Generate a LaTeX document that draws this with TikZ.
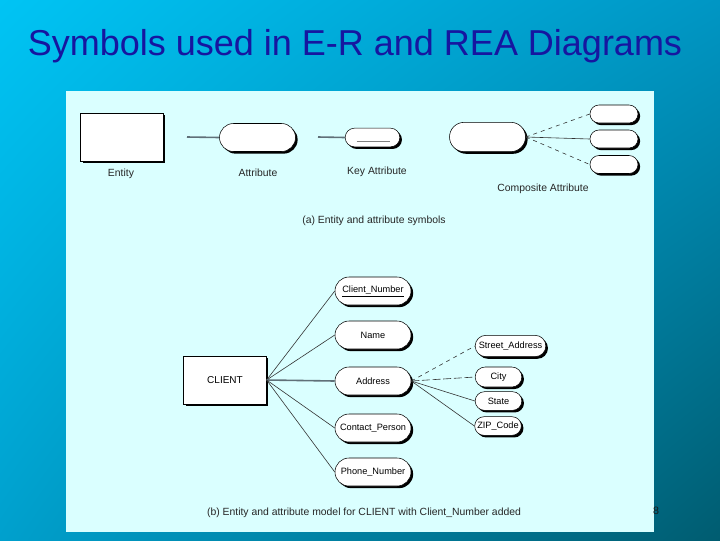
\documentclass[tikz,border=0pt]{standalone}
\usepackage{fontspec}
\setmainfont{Liberation Sans}
\usetikzlibrary{shapes.misc,shadows,shadings}
\definecolor{bgtl}{RGB}{0,196,244}
\definecolor{bgtr}{RGB}{0,150,196}
\definecolor{bgbl}{RGB}{0,160,205}
\definecolor{bgbr}{RGB}{0,92,112}
\definecolor{panel}{RGB}{218,255,255}
\definecolor{titleblue}{RGB}{22,22,160}
\definecolor{linkgray}{RGB}{96,112,120}

\begin{document}
\begin{tikzpicture}[x=0.75pt,y=-0.75pt,
		shadowed/.style={drop shadow={shadow xshift=1.6pt,shadow yshift=-1.6pt,opacity=1,fill=black}},
		ent/.style={draw,thin,fill=white,rectangle,shadowed,minimum width=62pt,minimum height=36pt,inner sep=0pt,font=\fontsize{7.5}{9}\selectfont},
		attr/.style={draw,thin,fill=white,rounded rectangle,shadowed,minimum width=57pt,minimum height=21pt,inner sep=0pt,font=\fontsize{6.9}{8}\selectfont},
		subattr/.style={attr,minimum width=35pt,minimum height=15pt},
		lbl/.style={font=\fontsize{7.8}{9}\selectfont,text=black!85},
		link/.style={draw=linkgray,line width=1.2pt},
		thinlink/.style={draw=black!80,line width=0.45pt}]
		\shade [upper left=bgtl,upper right=bgtr,lower left=bgbl,lower right=bgbr] (0,0) rectangle (720,540);
		\fill [panel] (66,91) rectangle (654,532);
		\node [font=\fontsize{27}{31}\selectfont,text=titleblue] (title) at (355,46) {Symbols used in E-R and REA Diagrams};
		\node [text=black!90,font=\fontsize{8}{9}\selectfont] (pagenum) at (656,511) {8};

		\node [ent] (entity) at (122,137) {};
		\node [lbl] (entitylbl) at (121,174) {Entity};
		\coordinate (attrend) at (187,137);
		\node [attr] (attrbox) at (257.5,137.5) {};
		\node [lbl] (attrlbl) at (258,173) {Attribute};
		\draw [link] (attrend) -- (attrbox.west);
		\coordinate (keyend) at (318,137);
		\node [attr,minimum width=41pt,minimum height=14pt] (keybox) at (372.5,137.5) {};
		\draw [gray,line width=1.2pt] ([xshift=-12pt,yshift=-3pt]keybox.center) -- ([xshift=13pt,yshift=-3pt]keybox.center);
		\node [lbl] (keylbl) at (377,172) {Key Attribute};
		\draw [link] (keyend) -- (keybox.west);
		\node [attr,minimum height=22pt] (compbox) at (487.5,137) {};
		\node [subattr,minimum width=36pt,minimum height=13.5pt] (comptop) at (614,114) {};
		\node [subattr,minimum width=36pt,minimum height=13.5pt] (compmid) at (614,139) {};
		\node [subattr,minimum width=36pt,minimum height=13.5pt] (compbot) at (614,164.5) {};
		\draw [thinlink,dashed] (compbox.east) -- (comptop.west);
		\draw [thinlink] (compbox.east) -- (compmid.west);
		\draw [thinlink,dashed] (compbox.east) -- (compbot.west);
		\node [lbl] (complbl) at (543,189) {Composite Attribute};
		\node [lbl] (captiona) at (374,221) {(a) Entity and attribute symbols};

		\node [ent] (client) at (225,380) {CLIENT};
		\node [attr] (clientnum) at (373,291) {\underline{Client\_Number}};
		\node [attr] (name) at (373,335) {Name};
		\node [attr] (address) at (373,381) {Address};
		\node [attr] (contact) at (373,428) {Contact\_Person};
		\node [attr] (phone) at (373,472) {Phone\_Number};
		\draw [thinlink] (client.east) -- (clientnum.west);
		\draw [thinlink] (client.east) -- (name.west);
		\draw [link] (client.east) -- (address.west);
		\draw [thinlink] (client.east) -- (contact.west);
		\draw [thinlink] (client.east) -- (phone.west);
		\node [subattr,minimum width=53pt,minimum height=16pt] (street) at (510.5,346) {Street\_Address};
		\node [subattr] (city) at (498.5,377) {City};
		\node [subattr,minimum height=14pt] (state) at (498.5,401) {State};
		\node [subattr,minimum height=14pt] (zip) at (498,426) {ZIP\_Code};
		\draw [thinlink,dashed] (address.east) -- (street.west);
		\draw [thinlink,dash pattern=on 6pt off 2pt] (address.east) -- (city.west);
		\draw [thinlink] (address.east) -- (state.west);
		\draw [thinlink] (address.east) -- (zip.west);
		\node [lbl] (captionb) at (364,513) {(b) Entity and attribute model for CLIENT with Client\_Number added};
	\end{tikzpicture}
\end{document}
